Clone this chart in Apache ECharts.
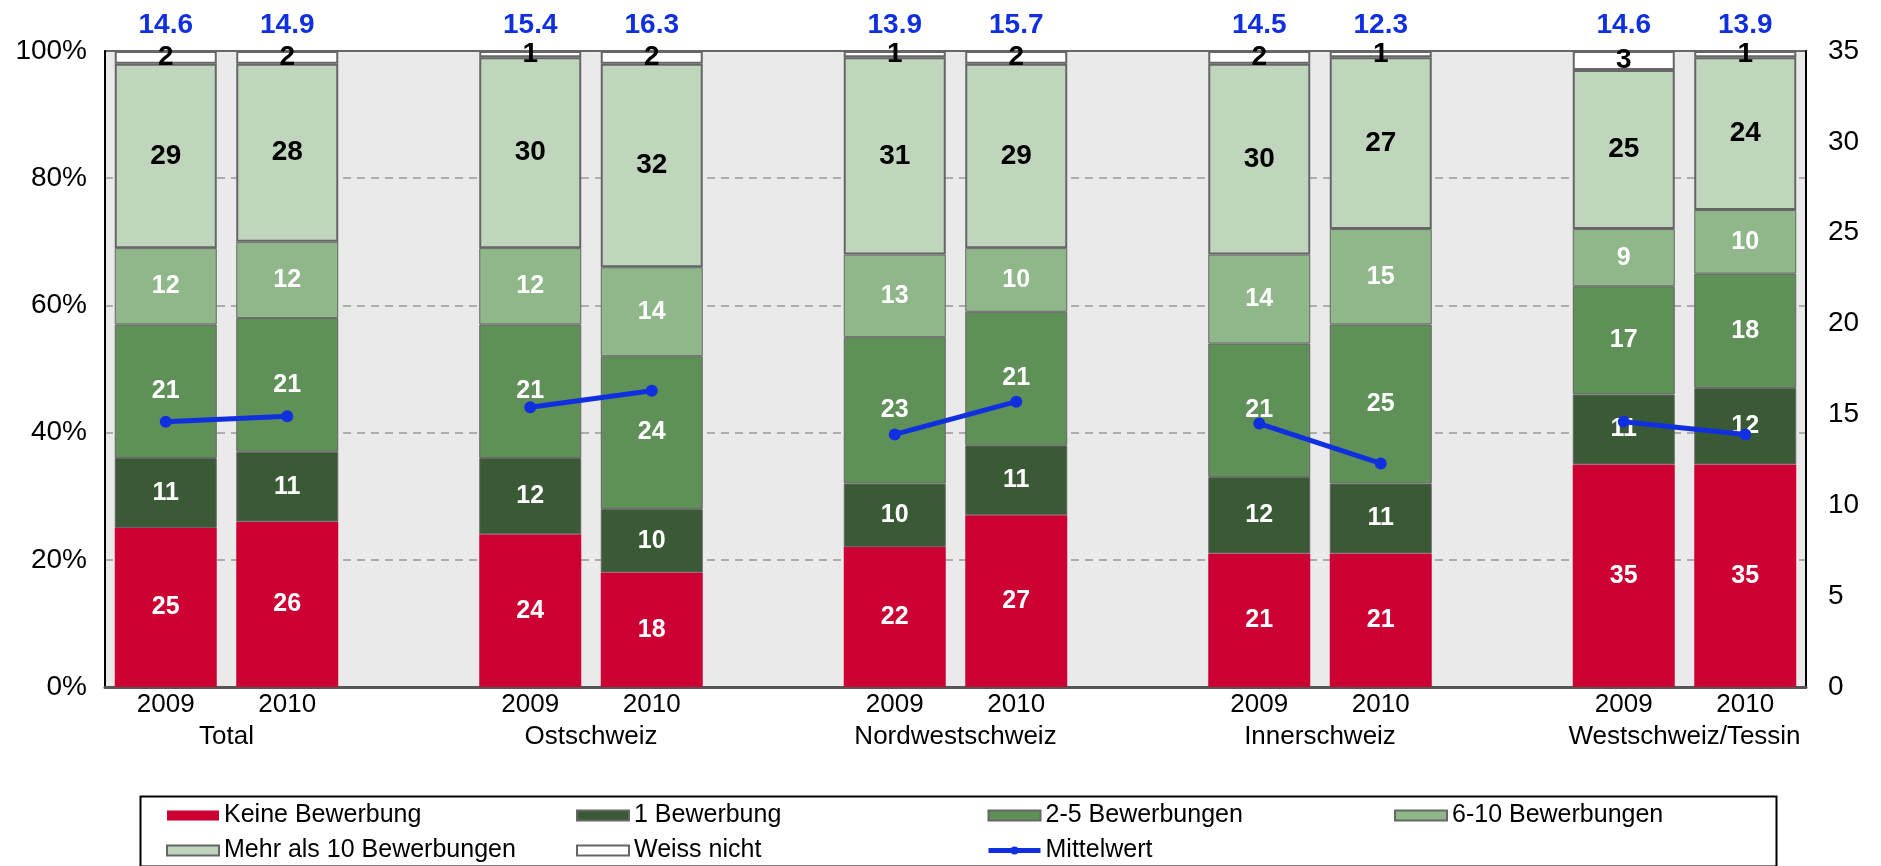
<!DOCTYPE html>
<html>
<head>
<meta charset="utf-8">
<script src="https://cdn.jsdelivr.net/npm/echarts@6/dist/echarts.min.js"></script>
<style>html,body{margin:0;padding:0;background:#fff}#c{width:1881px;height:866px}</style>
</head>
<body>
<div id="c"></div>
<script>
// ---- data ----
const regions = ['Total', 'Ostschweiz', 'Nordwestschweiz', 'Innerschweiz', 'Westschweiz/Tessin'];
const years = ['2009', '2010'];
// values per bar, order: Total 09, Total 10, Ost 09, Ost 10, NW 09, NW 10, Inner 09, Inner 10, West 09, West 10
const keineBewerbung = [25, 26, 24, 18, 22, 27, 21, 21, 35, 35];
const eineBewerbung = [11, 11, 12, 10, 10, 11, 12, 11, 11, 12];
const zweiBisFuenf = [21, 21, 21, 24, 23, 21, 21, 25, 17, 18];
const sechsBisZehn = [12, 12, 12, 14, 13, 10, 14, 15, 9, 10];
const mehrAlsZehn = [29, 28, 30, 32, 31, 29, 30, 27, 25, 24];
const weissNicht = [2, 2, 1, 2, 1, 2, 2, 1, 3, 1];
const mittelwert = [14.6, 14.9, 15.4, 16.3, 13.9, 15.7, 14.5, 12.3, 14.6, 13.9];
const pctTicks = [0, 20, 40, 60, 80, 100];
const rightTicks = [0, 5, 10, 15, 20, 25, 30, 35];

// ---- build slots (two bars per region, an empty slot between regions) ----
function slots(arr, gap) {
  const out = [];
  regions.forEach((r, i) => {
    out.push(arr[2 * i], arr[2 * i + 1]);
    if (i < regions.length - 1) out.push(gap);
  });
  return out;
}
const yearCats = [];
regions.forEach((r, i) => {
  yearCats.push(years[0], years[1]);
  if (i < regions.length - 1) yearCats.push('');
});
// region axis: boundary points between the two bars of each region
const regionCats = [];
for (let i = 0; i <= yearCats.length; i++) regionCats.push('');
regions.forEach((r, i) => { regionCats[3 * i + 1] = r; });

const FONT = 'Liberation Sans, Arial, sans-serif';
const BORDER = '#666666';
const BLUE = '#1030E0';

function barSeries(name, data, color, labelColor, labelSize, bw) {
  return {
    name: name, type: 'bar', stack: 'total', xAxisIndex: 0, yAxisIndex: 0,
    data: slots(data, '-'), barWidth: 102,
    itemStyle: { color: color, borderColor: BORDER, borderWidth: bw },
    label: {
      show: true, position: 'inside', color: labelColor, fontSize: labelSize,
      fontWeight: 'bold', fontFamily: FONT
    },
    emphasis: { disabled: true }
  };
}

const meanSlots = slots(mittelwert, null);

const legendBase = {
  orient: 'vertical', top: 803, padding: 0, height: 62,
  itemWidth: 52, itemHeight: 10, itemGap: 10,
  textStyle: { fontSize: 25, color: '#000', fontFamily: FONT, lineHeight: 25 }
};

const option = {
  animation: false,
  backgroundColor: '#ffffff',
  textStyle: { fontFamily: FONT },
  grid: {
    left: 105, right: 75, top: 51, bottom: 179, show: true,
    backgroundColor: '#EAEAEA', borderColor: '#666666', borderWidth: 2
  },
  xAxis: [
    {
      type: 'category', data: yearCats, position: 'bottom',
      axisLine: { show: true, lineStyle: { color: '#555555', width: 3 } },
      axisTick: { show: false },
      axisLabel: { interval: 0, color: '#000', fontSize: 26, fontFamily: FONT, margin: 5 },
      splitLine: { show: false }
    },
    {
      type: 'category', data: regionCats, position: 'bottom', boundaryGap: false,
      axisLine: { show: false }, axisTick: { show: false },
      axisLabel: { interval: 0, color: '#000', fontSize: 26, fontFamily: FONT, margin: 37 },
      splitLine: { show: false }
    }
  ],
  yAxis: [
    {
      type: 'value', min: pctTicks[0], max: pctTicks[pctTicks.length - 1], interval: 20,
      axisLine: { show: true, lineStyle: { color: '#000', width: 2 } },
      axisTick: { show: false },
      axisLabel: { formatter: '{value}%', color: '#000', fontSize: 28, fontFamily: FONT, margin: 18 },
      splitLine: {
        show: true, showMinLine: false, showMaxLine: false,
        lineStyle: { color: '#999999', width: 1.5, type: [8, 6] }
      }
    },
    {
      type: 'value', min: rightTicks[0], max: rightTicks[rightTicks.length - 1], interval: 5,
      position: 'right',
      axisLine: { show: true, lineStyle: { color: '#000', width: 2 } },
      axisTick: { show: false },
      axisLabel: { color: '#000', fontSize: 28, fontFamily: FONT, margin: 22 },
      splitLine: { show: false }
    }
  ],
  legend: [
    Object.assign({}, legendBase, {
      left: 166,
      data: [{ name: 'Keine Bewerbung', icon: 'rect' }, { name: 'Mehr als 10 Bewerbungen', icon: 'rect' }]
    }),
    Object.assign({}, legendBase, {
      left: 576,
      data: [{ name: '1 Bewerbung', icon: 'rect' }, { name: 'Weiss nicht', icon: 'rect' }]
    }),
    Object.assign({}, legendBase, {
      left: 986,
      data: [{ name: '2-5 Bewerbungen', icon: 'rect' },
             { name: 'Mittelwert', lineStyle: { width: 5, color: BLUE }, itemStyle: { color: BLUE } }]
    }),
    Object.assign({}, legendBase, {
      left: 1394,
      data: [{ name: '6-10 Bewerbungen', icon: 'rect' }]
    })
  ],
  graphic: [
    {
      type: 'rect', left: 138, top: 794, silent: true,
      shape: { width: 1636, height: 70 },
      style: { fill: 'none', stroke: '#000', lineWidth: 2 }
    }
  ],
  series: [
    barSeries('Keine Bewerbung', keineBewerbung, '#CC0033', '#ffffff', 25, 0),
    barSeries('1 Bewerbung', eineBewerbung, '#3A5A35', '#ffffff', 25, 1),
    barSeries('2-5 Bewerbungen', zweiBisFuenf, '#5F9058', '#ffffff', 25, 1),
    barSeries('6-10 Bewerbungen', sechsBisZehn, '#8FB78A', '#ffffff', 25, 1),
    barSeries('Mehr als 10 Bewerbungen', mehrAlsZehn, '#BFD5BC', '#000000', 28, 2),
    barSeries('Weiss nicht', weissNicht, '#FFFFFF', '#000000', 28, 2),
    {
      name: 'meanLabels', type: 'bar', stack: 'total', barWidth: 102,
      data: slots(mittelwert.map(() => 0), '-'),
      itemStyle: { color: 'rgba(0,0,0,0)', borderWidth: 0 },
      label: {
        show: true, position: 'top', distance: 12, color: BLUE, fontSize: 28,
        fontWeight: 'bold', fontFamily: FONT,
        formatter: p => { const v = meanSlots[p.dataIndex]; return v == null ? '' : v.toFixed(1); }
      },
      emphasis: { disabled: true }, silent: true
    },
    {
      name: 'Mittelwert', type: 'line', xAxisIndex: 0, yAxisIndex: 1,
      data: meanSlots, connectNulls: false,
      symbol: 'circle', symbolSize: 12,
      lineStyle: { color: BLUE, width: 5 },
      itemStyle: { color: BLUE },
      z: 5, emphasis: { disabled: true }
    }
  ]
};

const chart = echarts.init(document.getElementById('c'), null, { renderer: 'canvas' });
chart.setOption(option);
</script>
</body>
</html>
